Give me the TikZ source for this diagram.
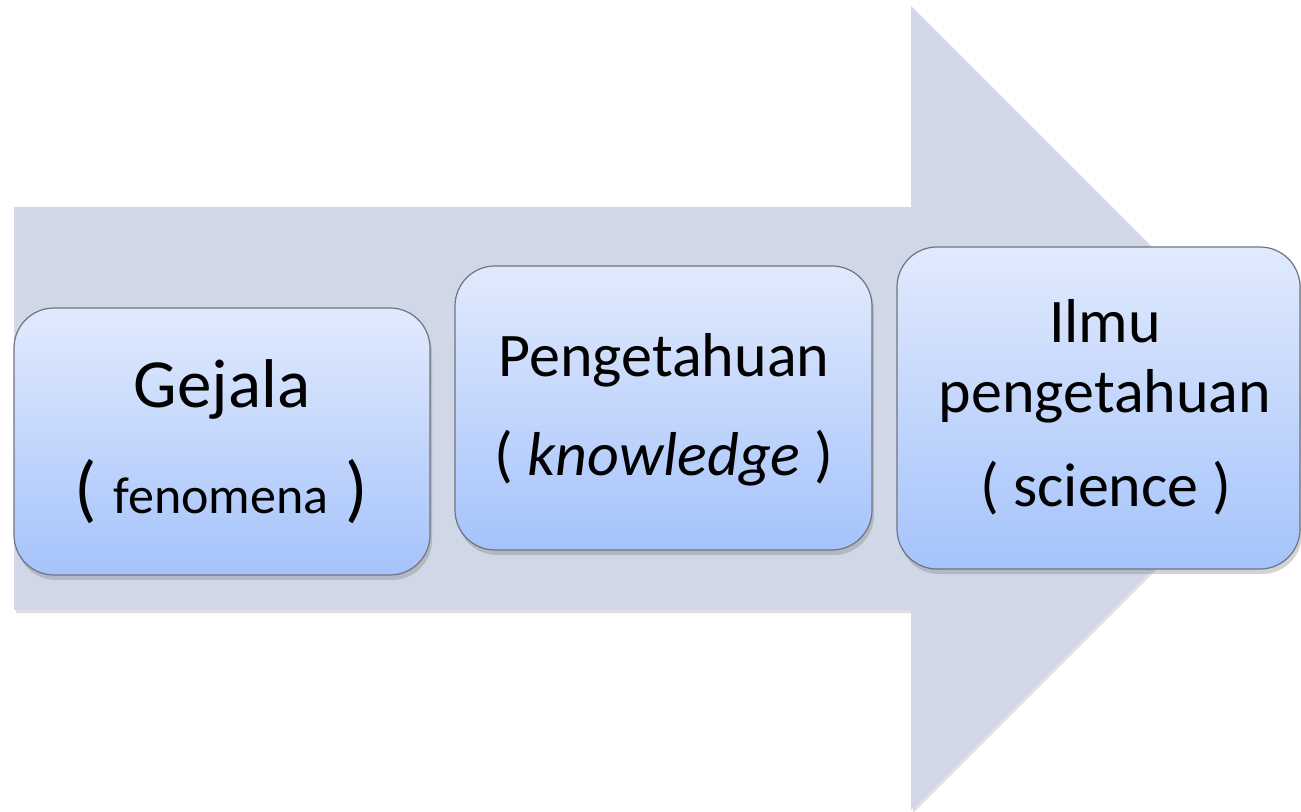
\documentclass[tikz,border=0pt]{standalone}
\usepackage{fontspec}
\setmainfont{Carlito}
\usetikzlibrary{shadows}
\definecolor{arrowfill}{RGB}{208,215,230}
\definecolor{boxtop}{RGB}{225,234,253}
\definecolor{boxbot}{RGB}{165,195,251}
\definecolor{boxline}{RGB}{110,116,128}
\tikzset{
  boxnode/.style={rectangle, rounded corners=20pt, draw=boxline, line width=0.6pt,
    top color=boxtop, bottom color=boxbot, inner sep=0pt,
    drop shadow={opacity=0.35, shadow xshift=1pt, shadow yshift=-2.5pt}},
  txt/.style={anchor=base, inner sep=0pt, text=black},
  bigtxt/.style={txt, font=\fontsize{31}{37}\selectfont},
}
\begin{document}
\begin{tikzpicture}[x=0.5pt, y=-0.5pt]
\useasboundingbox (0,0) rectangle (1301,812);
\clip (0,0) rectangle (1301,812);
% big arrow
\fill[arrowfill, drop shadow={opacity=0.25, shadow xshift=1pt, shadow yshift=-1.5pt}]
  (14,207) -- (911,207) -- (911,6) -- (1313,408) -- (911,810) -- (911,610) -- (14,610) -- cycle;
% boxes
\node[boxnode, minimum width=208pt, minimum height=133.5pt] (b1) at (222,441.5) {};
\node[boxnode, minimum width=208.5pt, minimum height=142pt] (b2) at (663.5,408) {};
\node[boxnode, minimum width=201.5pt, minimum height=161pt] (b3) at (1098.5,408) {};
% texts box 1
\node[txt, font=\fontsize{34.5}{40}\selectfont] (t1a) at (222,408) {Gejala};
\node[txt, font=\fontsize{37}{44}\selectfont] (t1b) at (221,513) {( {\fontsize{26}{30}\selectfont fenomena} )};
% texts box 2
\node[bigtxt] (t2a) at (664,377) {Pengetahuan};
\node[bigtxt] (t2b) at (664,475) {( \textit{knowledge} )};
% texts box 3
\node[bigtxt] (t3a) at (1105,343) {Ilmu};
\node[bigtxt] (t3b) at (1105,413) {pengetahuan};
\node[bigtxt] (t3c) at (1106,507) {( science )};
\end{tikzpicture}
\end{document}
